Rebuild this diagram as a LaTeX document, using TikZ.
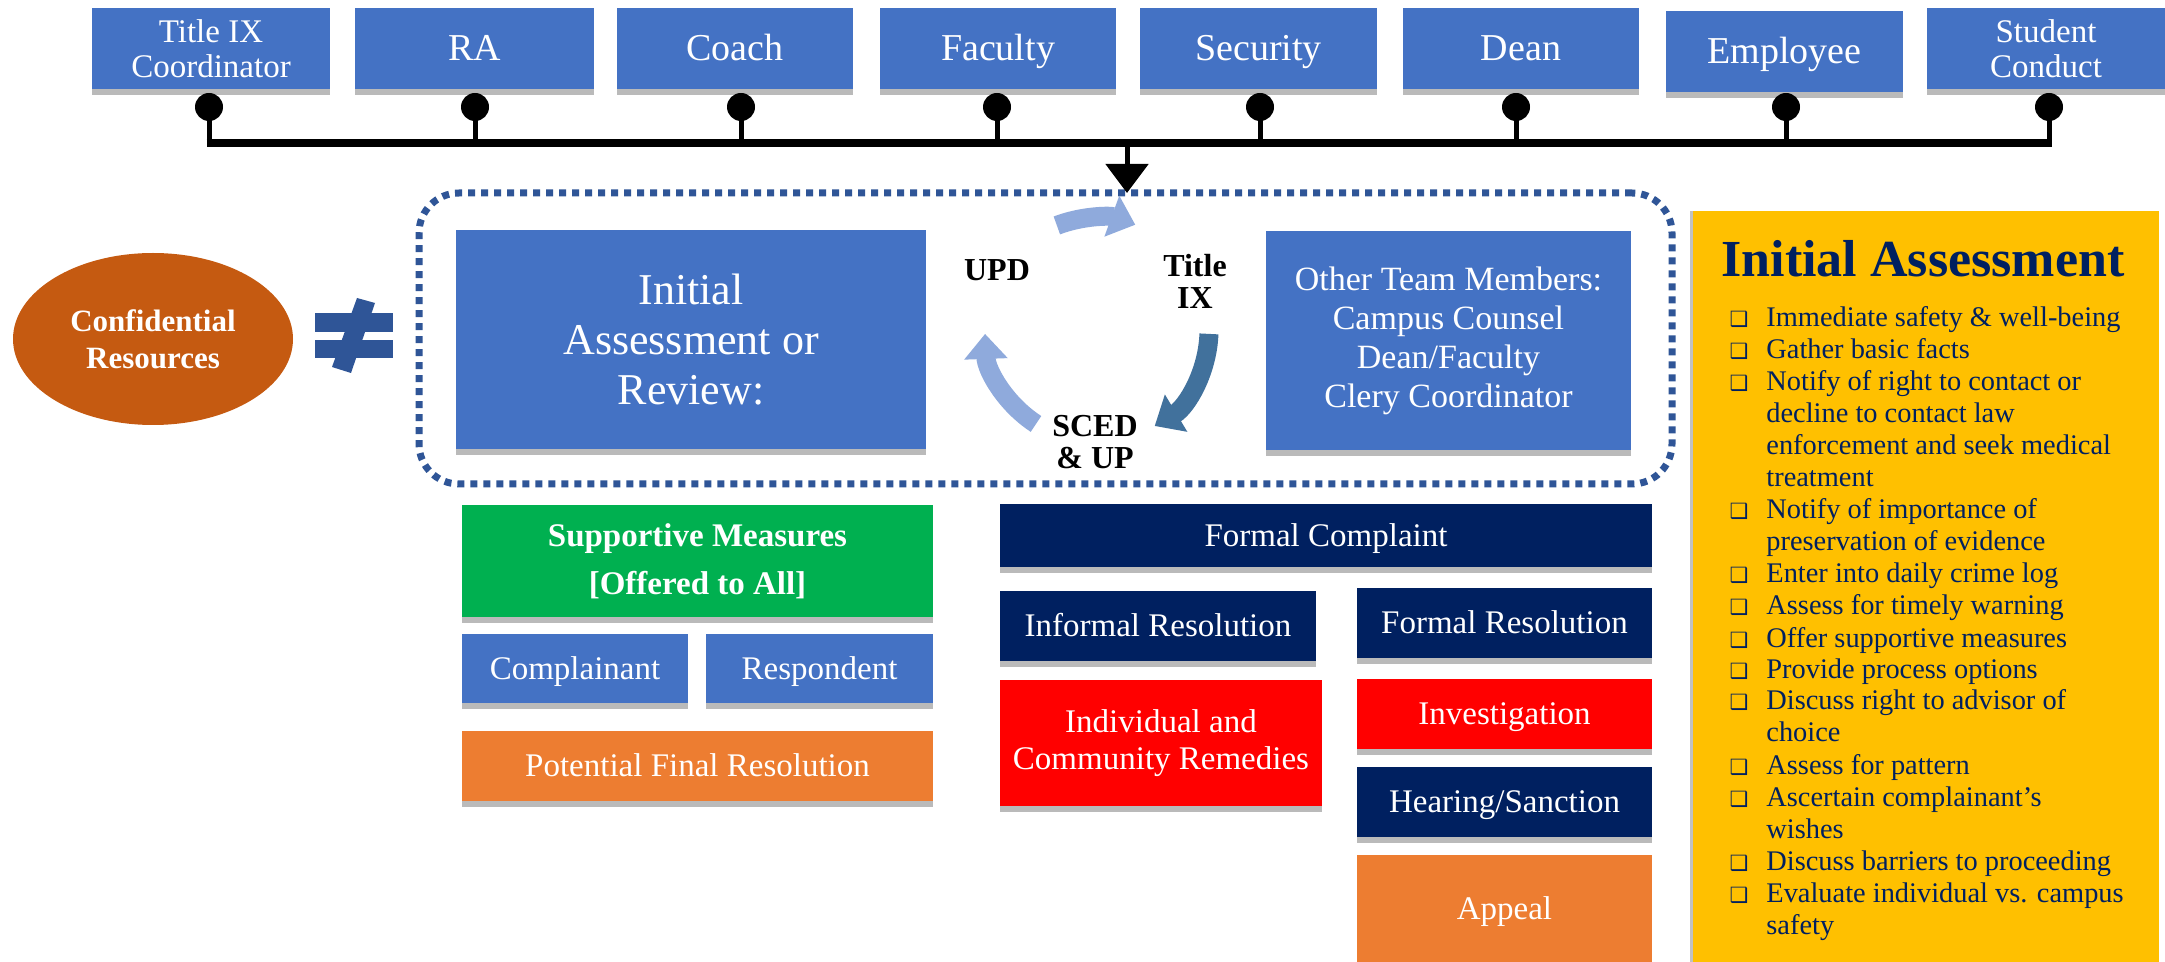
\documentclass[tikz,border=0pt]{standalone}
\usepackage{fontspec}
\setmainfont{Liberation Serif}
\newfontfamily\bulfont{DejaVu Sans}
\usetikzlibrary{shapes.geometric,arrows.meta,shadows,calc}
\definecolor{topblue}{HTML}{4472C4}
\definecolor{navy}{HTML}{002060}
\definecolor{grn}{HTML}{00B050}
\definecolor{orng}{HTML}{ED7D31}
\definecolor{rd}{HTML}{FF0000}
\definecolor{brwn}{HTML}{C55A11}
\definecolor{yel}{HTML}{FFC000}
\definecolor{frameblue}{HTML}{2F5597}
\definecolor{arrlight}{HTML}{8FAADC}
\definecolor{arrdark}{HTML}{41719C}
\newcommand{\fsz}[2]{\fontsize{#1}{#2}\selectfont}
\newcommand{\pbox}[7]{\node[#6, anchor=north west, minimum width={(#4-#2)*0.5pt}, minimum height={(#5-#3)*0.5pt}] (#1) at (#2,#3) {#7};}
\newcommand{\bul}{\llap{{\bulfont\fontsize{10.5}{10.5}\selectfont ❑}\hspace{9pt}}}
\newcommand{\ml}[1]{\begin{tabular}[t]{@{}l@{}}#1\end{tabular}}
\tikzset{
  box/.style={rectangle, inner sep=2pt, outer sep=0pt, text=white, align=center,
    drop shadow={shadow xshift=0pt, shadow yshift=-3pt, fill=black!45, opacity=.6}},
  onebig/.style={text height=12.5pt, text depth=0pt},
  one/.style={text height=10.9pt, text depth=0pt},
  topbox/.style={box, onebig, fill=topblue, font=\fsz{19}{21}},
  topboxtwo/.style={box, fill=topblue, font=\fsz{16.5}{17.5}},
  midbox/.style={box, fill=topblue, font=\fsz{22}{25}},
  otmbox/.style={box, fill=topblue, font=\fsz{17}{19.5}},
  greenbox/.style={box, fill=grn, font=\bfseries\fsz{16.5}{24}},
  bluebox/.style={box, one, fill=topblue, font=\fsz{16.5}{18.5}},
  orangebox/.style={box, one, fill=orng, font=\fsz{16.5}{18.5}},
  navybox/.style={box, one, fill=navy, font=\fsz{16.5}{18.5}},
  redbox/.style={box, one, fill=rd, font=\fsz{16.5}{18.5}},
  redboxtwo/.style={box, fill=rd, font=\fsz{16.5}{18.5}},
  panelbox/.style={rectangle, fill=yel, inner sep=0pt, outer sep=0pt,
    drop shadow={shadow xshift=-1.5pt, shadow yshift=0pt, fill=black!40, opacity=.6}},
  framebox/.style={rectangle, draw=frameblue, line width=3.5pt, dash pattern=on 3.5pt off 3pt,
    rounded corners=20pt, inner sep=0pt, outer sep=0pt},
  dotnode/.style={circle, fill=black, minimum size=14pt, inner sep=0pt},
  stem/.style={line width=2.5pt},
  busline/.style={line width=4pt, shorten <=-1.25pt, shorten >=-1.25pt},
  downarrow/.style={line width=2.5pt, -{Triangle[length=14.5pt, width=21pt]}},
  cycarrow/.style={line width=9.5pt, -{Triangle[length=12.5pt, width=21pt]}},
  cyclabel/.style={align=center, font=\bfseries\fsz{16}{16}, inner sep=0pt},
  conf/.style={ellipse, fill=brwn, text=white, align=center, minimum width=140pt,
    minimum height=86pt, inner sep=0pt, font=\bfseries\fsz{15.5}{18.5}},
  item/.style={anchor=base west, text=navy, font=\fsz{14.2}{16}, inner sep=0pt}
}
\begin{document}
\begin{tikzpicture}[x=0.5pt,y=-0.5pt]
\useasboundingbox (0,0) rectangle (2165,962);
\fill[white] (0,0) rectangle (2165,962);

% top row
\pbox{t1}{92}{8}{330}{89}{topboxtwo}{Title IX\\Coordinator}
\pbox{t2}{355}{8}{594}{89}{topbox}{RA}
\pbox{t3}{617}{8}{853}{89}{topbox}{Coach}
\pbox{t4}{880}{8}{1116}{89}{topbox}{Faculty}
\pbox{t5}{1140}{8}{1377}{89}{topbox}{Security}
\pbox{t6}{1403}{8}{1639}{89}{topbox}{Dean}
\pbox{t7}{1666}{11}{1903}{92}{topbox}{Employee}
\pbox{t8}{1927}{8}{2165}{89}{topboxtwo}{Student\\Conduct}

\node[dotnode] (d1) at (209,107) {};
\node[dotnode] (d2) at (475,107) {};
\node[dotnode] (d3) at (741,107) {};
\node[dotnode] (d4) at (997,107) {};
\node[dotnode] (d5) at (1260,107) {};
\node[dotnode] (d6) at (1516,107) {};
\node[dotnode] (d7) at (1786,107) {};
\node[dotnode] (d8) at (2049,107) {};
\coordinate (bus) at (1127,143);
\foreach \d in {d1,d2,d3,d4,d5,d6,d7,d8}
  \draw[stem] (\d.center) -- (\d.center |- bus);
\draw[busline] (d1.center |- bus) -- (d8.center |- bus);

% dotted frame
\pbox{frame}{419}{193}{1672}{484}{framebox}{}
\draw[downarrow] (bus) -- (bus |- frame.north);

\pbox{ia}{456}{230}{926}{449}{midbox}{Initial\\Assessment or\\Review:}
\pbox{otm}{1266}{231}{1631}{450}{otmbox}{Other Team Members:\\Campus Counsel\\Dean/Faculty\\Clery Coordinator}

% confidential
\node[conf] (conf) at (153,339) {Confidential\\Resources};
\fill[frameblue] (315,313) rectangle (393,332);
\fill[frameblue] (315,340) rectangle (393,358);
\fill[frameblue] (357,298) -- (375,303) -- (351,373) -- (332,367) -- cycle;

% cycle
\coordinate (cyc) at (1097,330);
\draw[cycarrow, arrlight] ($(cyc)+(249:112)$) arc[start angle=249, end angle=290, radius=112];
\draw[cycarrow, arrdark] ($(cyc)+(2:112)$) arc[start angle=2, end angle=59, radius=112];
\draw[cycarrow, arrlight] ($(cyc)+(123:112)$) arc[start angle=123, end angle=178, radius=112];
\node[cyclabel] (upd) at (997,270) {UPD};
\node[cyclabel] (t9) at (1195,281) {Title\\IX};
\node[cyclabel] (sced) at (1095,442) {SCED\\\& UP};

% bottom boxes
\pbox{sm}{462}{505}{933}{617}{greenbox}{Supportive Measures\\\relax[Offered to All]}
\pbox{comp}{462}{634}{688}{703}{bluebox}{Complainant}
\pbox{resp}{706}{634}{933}{703}{bluebox}{Respondent}
\pbox{pfr}{462}{731}{933}{801}{orangebox}{Potential Final Resolution}
\pbox{fc}{1000}{504}{1652}{567}{navybox}{Formal Complaint}
\pbox{ir}{1000}{591}{1316}{661}{navybox}{Informal Resolution}
\pbox{fr}{1357}{588}{1652}{658}{navybox}{Formal Resolution}
\pbox{icr}{1000}{680}{1322}{806}{redboxtwo}{Individual and\\Community Remedies}
\pbox{inv}{1357}{679}{1652}{749}{redbox}{Investigation}
\pbox{hs}{1357}{767}{1652}{837}{navybox}{Hearing/Sanction}
\pbox{ap}{1357}{855}{1652}{962}{orangebox}{Appeal}

% right panel
\pbox{panel}{1693}{211}{2159}{962}{panelbox}{}
\node[anchor=base, text=navy, font=\bfseries\fsz{26}{30}, inner sep=0pt] (ptitle) at (1923,277) {Initial Assessment};
\node[item] (i1) at (1766,327) {\ml{\bul Immediate safety \& well-being}};
\node[item] (i2) at (1766,359) {\ml{\bul Gather basic facts}};
\node[item] (i3) at (1766,391) {\ml{\bul Notify of right to contact or\\decline to contact law\\enforcement and seek medical\\treatment}};
\node[item] (i4) at (1766,519) {\ml{\bul Notify of importance of\\preservation of evidence}};
\node[item] (i5) at (1766,583) {\ml{\bul Enter into daily crime log}};
\node[item] (i6) at (1766,615) {\ml{\bul Assess for timely warning}};
\node[item] (i7) at (1766,647) {\ml{\bul Offer supportive measures}};
\node[item] (i8) at (1766,678) {\ml{\bul Provide process options}};
\node[item] (i9) at (1766,710) {\ml{\bul Discuss right to advisor of\\choice}};
\node[item] (i10) at (1766,774) {\ml{\bul Assess for pattern}};
\node[item] (i11) at (1766,806) {\ml{\bul Ascertain complainant’s\\wishes}};
\node[item] (i12) at (1766,870) {\ml{\bul Discuss barriers to proceeding}};
\node[item] (i13) at (1766,902) {\ml{\bul Evaluate individual vs. campus\\safety}};
\end{tikzpicture}
\end{document}
